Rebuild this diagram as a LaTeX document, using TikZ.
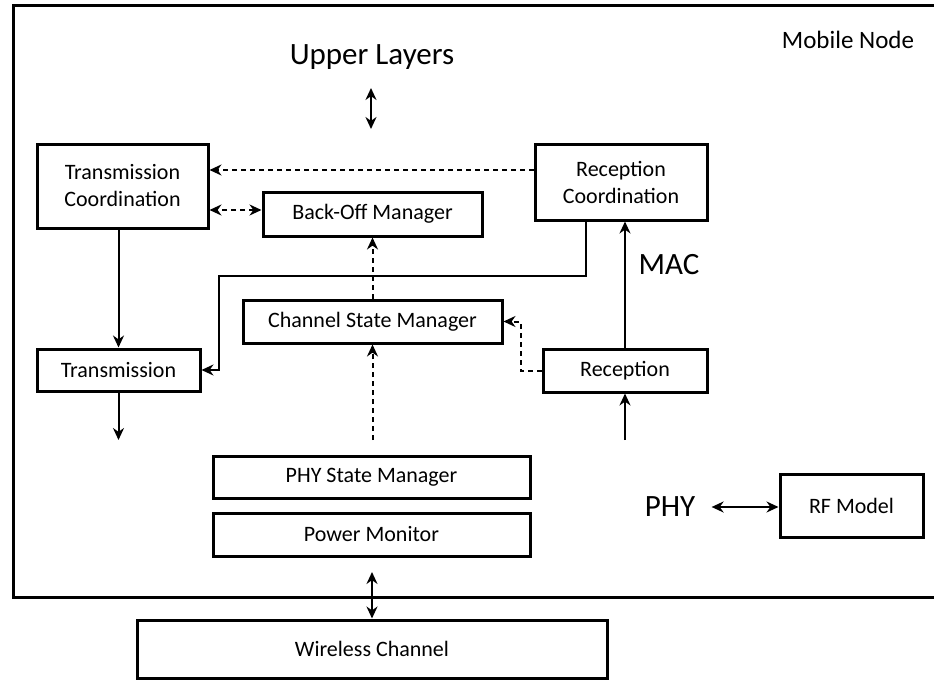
\documentclass[tikz,border=0pt]{standalone}
\usepackage{fontspec}
\setmainfont{Carlito}
\usetikzlibrary{arrows.meta}

\begin{document}
\begin{tikzpicture}[x=0.5pt,y=-0.5pt,
  blk/.style={draw,line width=1.5pt,inner sep=0pt,align=center,font=\fontsize{11}{13.5}\selectfont},
  big/.style={inner sep=0pt,font=\fontsize{15.5}{18}\selectfont},
  link/.style={line width=1pt,-{Stealth[length=6pt,width=5.5pt]}},
  both/.style={line width=1pt,{Stealth[length=6pt,width=5.5pt]}-{Stealth[length=6pt,width=5.5pt]}},
  dsh/.style={dash pattern=on 2.5pt off 2pt}]
\useasboundingbox (0,0) rectangle (934,680);
\draw[line width=1.5pt] (940,5) -- (13,5) -- (13,597) -- (940,597);

\node[inner sep=0pt,font=\fontsize{12.5}{15}\selectfont] (mobile) at (848,40) {Mobile Node};
\node[big] (upper) at (372,57) {Upper Layers};
\node[big] (mac) at (669,265) {MAC};
\node[big,inner sep=8pt] (phy) at (670,507) {PHY};

\node[blk,minimum width=85.5pt,minimum height=42pt] (txco) at (122.5,186) {Transmission\\Coordination};
\node[blk,minimum width=109.5pt,minimum height=22pt] (backoff) at (372.5,214) {Back-Off Manager};
\node[blk,minimum width=86pt,minimum height=38pt] (rxco) at (621,182) {Reception\\Coordination};
\node[blk,minimum width=81.5pt,minimum height=21pt] (tx) at (118.5,370) {Transmission};
\node[blk,minimum width=129.5pt,minimum height=21.5pt] (chan) at (372.5,321.5) {Channel State Manager};
\node[blk,minimum width=82pt,minimum height=21.5pt] (rx) at (625,370.5) {Reception};
\node[blk,minimum width=158.5pt,minimum height=21pt] (phystate) at (371.5,477) {PHY State Manager};
\node[blk,minimum width=158.5pt,minimum height=21.5pt] (power) at (371.5,534.5) {Power Monitor};
\node[blk,minimum width=235pt,minimum height=29pt] (wireless) at (372,649) {Wireless Channel};
\node[blk,minimum width=71.5pt,minimum height=31.5pt] (rf) at (851.5,505.5) {RF Model};

\coordinate (upTop) at (371,88);
\coordinate (upBot) at (371,129);
\coordinate (txOut) at (118.5,440);
\coordinate (bend) at (219,276);
\coordinate (phyUp) at (372.5,440);
\coordinate (rxIn) at (625,440);
\coordinate (pmOut) at (372,572);

\draw[both] (upTop) -- (upBot);
\draw[link,dsh] ([yshift=6pt]rxco.west) -- ([yshift=6pt]rxco.west -| txco.east);
\draw[both,dsh] ([yshift=2pt]backoff.west) -- ([yshift=2pt]backoff.west -| txco.east);
\draw[link] (tx.north |- txco.south) -- (tx.north);
\draw[link] (tx.south) -- (txOut);
\draw[link] ([xshift=-17.5pt]rxco.south) |- (bend) |- (tx.east);
\draw[link,dsh] (chan.north) -- (backoff.south);
\draw[link,dsh] (phyUp) -- (chan.south);
\draw[link,dsh] (rx.west) -- ++(-21,0) |- (chan.east);
\draw[link] (rxIn) -- (rx.south);
\draw[link] (rx.north) -- (rx.north |- rxco.south);
\draw[both] (pmOut) -- (wireless.north);
\draw[both] (phy.east) -- (rf.west |- phy.east);
\end{tikzpicture}
\end{document}
